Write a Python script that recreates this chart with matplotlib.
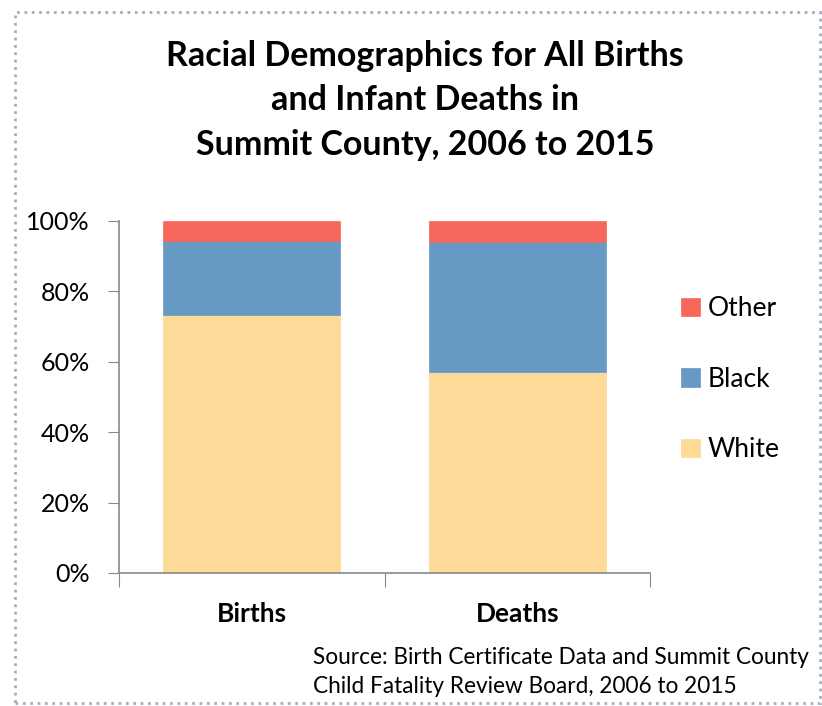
import numpy as np
import matplotlib.pyplot as plt
from matplotlib.patches import Rectangle

categories = ['Births', 'Deaths']
white = [73.3, 57.1]
black = [21.1, 36.9]
other = [5.6, 6.0]

c_white = '#FDDA97'
c_black = '#6699C3'
c_other = '#F6675C'

plt.rcParams['font.family'] = ['Lato', 'DejaVu Sans']

fig = plt.figure(figsize=(8.22, 7.06), dpi=100)
ax = fig.add_axes([0.1448, 0.1884, 0.646, 0.4986])

x = np.arange(len(categories))
w = 0.667
b1 = ax.bar(x, white, w, color=c_white, edgecolor=c_white, linewidth=0.5, label='White')
b2 = ax.bar(x, black, w, bottom=white, color=c_black, edgecolor=c_black, linewidth=0.5, label='Black')
b3 = ax.bar(x, other, w, bottom=np.add(white, black), color=c_other, edgecolor=c_other, linewidth=0.5, label='Other')

ax.set_xlim(-0.5, 1.5)
ax.set_ylim(0, 100)
ax.set_yticks(np.arange(0, 101, 20))
ax.set_yticklabels([f'{v}%' for v in range(0, 101, 20)], fontsize=18)
ax.set_xticks([-0.5, 0.5, 1.5])
ax.set_xticklabels([])
ax.set_xticks(x, minor=True)
ax.set_xticklabels(categories, minor=True, fontsize=19, fontweight='bold')
ax.tick_params(axis='x', which='minor', length=0, pad=21)
ax.tick_params(axis='x', which='major', length=10, color='#888888')
ax.tick_params(axis='y', length=8, color='#888888', pad=13)
for s in ['top', 'right']:
    ax.spines[s].set_visible(False)
for s in ['left', 'bottom']:
    ax.spines[s].set_color('#888888')
    ax.spines[s].set_linewidth(1.2)

leg = fig.legend([b3, b2, b1], ['Other', 'Black', 'White'],
                 loc='upper left', bbox_to_anchor=(0.80, 0.614),
                 frameon=False, fontsize=19, handlelength=0.7, handleheight=0.7,
                 handletextpad=0.3, labelspacing=1.72)

fig.text(0.517, 0.858, 'Racial Demographics for All Births\nand Infant Deaths in\nSummit County, 2006 to 2015',
         ha='center', va='center', fontsize=24.5, fontweight='bold', linespacing=1.48)

fig.text(0.381, 0.048, 'Source: Birth Certificate Data and Summit County\nChild Fatality Review Board, 2006 to 2015',
         ha='left', va='center', fontsize=16.3, linespacing=1.45)

border = Rectangle((0.018, 0.004), 0.98, 0.979, transform=fig.transFigure,
                   fill=False, edgecolor='#A5ADBE', linestyle=':', linewidth=2.0)
fig.patches.append(border)

fig.savefig('out.png', dpi=100)
